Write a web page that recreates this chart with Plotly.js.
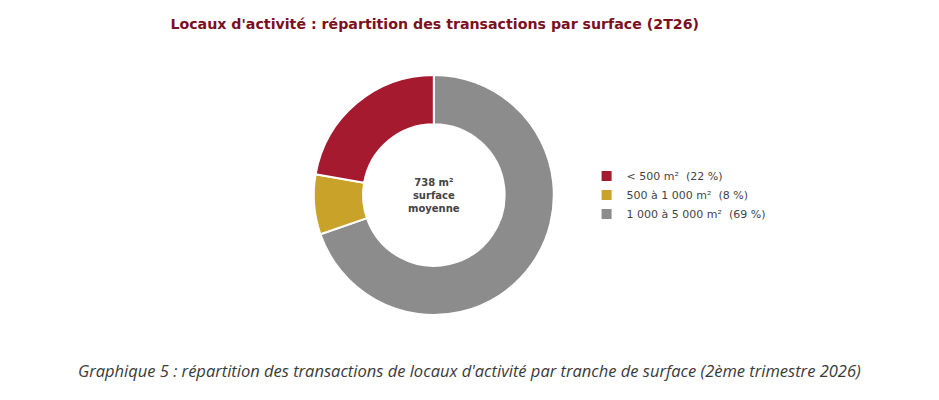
<!DOCTYPE html>
<html>
<head>
<meta charset="utf-8">
<script src="https://cdn.plot.ly/plotly-3.0.1.min.js"></script>
<style>
  html, body { margin: 0; padding: 0; background: #fff; }
  #plot { width: 939px; height: 400px; }
</style>
</head>
<body>
<div id="plot"></div>
<script>
// Tranches de surface et parts des transactions (en %)
var labels = ["< 500 m²  (22 %)", "500 à 1 000 m²  (8 %)", "1 000 à 5 000 m²  (69 %)"];
var values = [22, 8, 69];
var colors = ["#A51A2F", "#C9A229", "#8C8C8C"];
var centerText = "738 m²<br>surface<br>moyenne";

// slices go clockwise from 12 o'clock: largest first, legend reversed back
var trace = {
  type: "pie",
  labels: labels.slice().reverse(),
  values: values.slice().reverse(),
  hole: 0.59,
  sort: false,
  direction: "clockwise",
  rotation: 0,
  textinfo: "none",
  hoverinfo: "label",
  marker: { colors: colors.slice().reverse(), line: { color: "#fff", width: 2 } },
  domain: { x: [0.334, 0.59], y: [0.2125, 0.8125] }
};

var layout = {
  width: 939,
  height: 400,
  margin: { l: 0, r: 0, t: 0, b: 0 },
  paper_bgcolor: "#fff",
  showlegend: true,
  title: {
    text: "<b>Locaux d'activité : répartition des transactions par surface (2T26)</b>",
    font: { family: "DejaVu Sans", size: 14.2, color: "#7B1022" },
    x: 0.463,
    xanchor: "center",
    y: 0.94,
    yanchor: "middle"
  },
  legend: {
    x: 0.6247,
    y: 0.596,
    xanchor: "left",
    yanchor: "top",
    traceorder: "reversed",
    font: { family: "DejaVu Sans", size: 11, color: "#444" },
    itemwidth: 30
  },
  annotations: [
    {
      text: "<b>" + centerText + "</b>",
      x: 0.462, y: 0.5125,
      xref: "paper", yref: "paper",
      showarrow: false,
      font: { family: "DejaVu Sans", size: 10, color: "#444" }
    },
    {
      text: "<i>Graphique 5 : répartition des transactions de locaux d'activité par tranche de surface (2ème trimestre 2026)</i>",
      x: 0.4995, y: 0.075,
      xref: "paper", yref: "paper",
      xanchor: "center", yanchor: "middle",
      showarrow: false,
      font: { family: "Open Sans", size: 16.5, color: "#3A3A3A" }
    }
  ]
};

Plotly.newPlot("plot", [trace], layout, { displayModeBar: false, staticPlot: true });
</script>
</body>
</html>
